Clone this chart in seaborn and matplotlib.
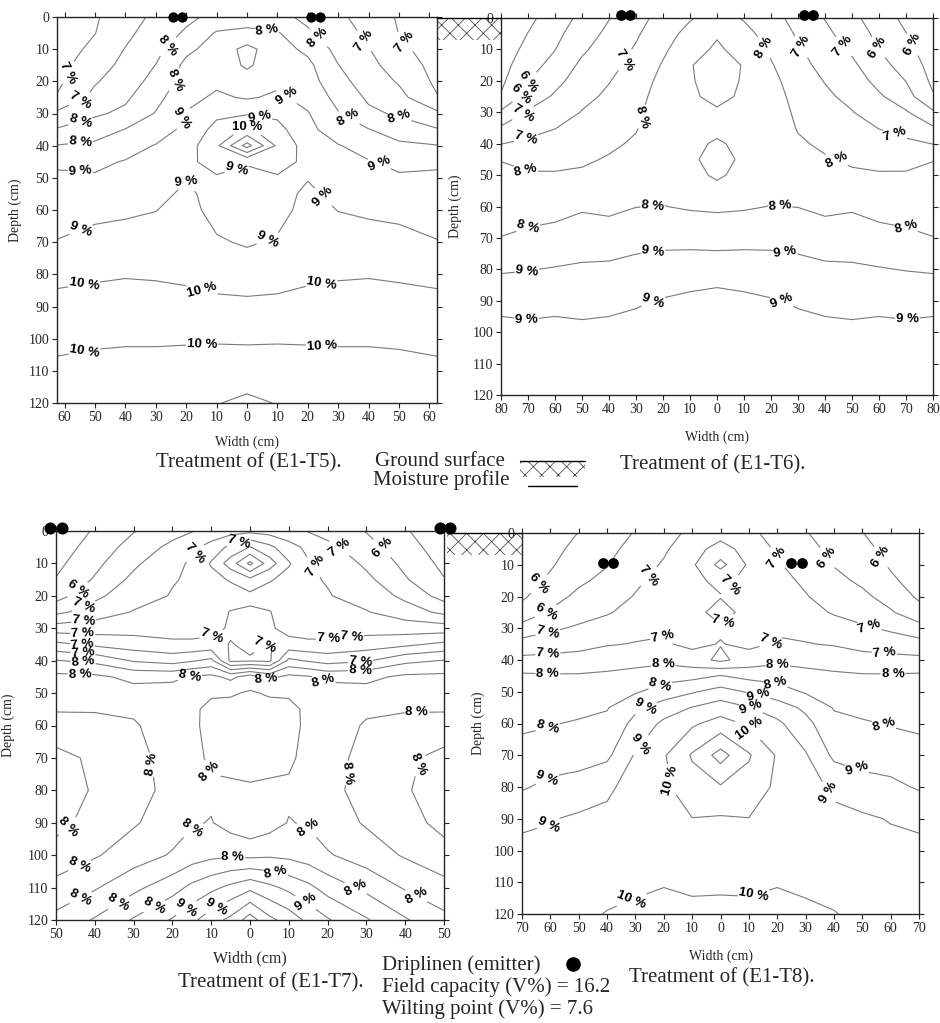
import numpy as np
import matplotlib
matplotlib.use("Agg")
import matplotlib.pyplot as plt
import seaborn as sns
from matplotlib.patches import Rectangle
from matplotlib.lines import Line2D
from matplotlib.ticker import FuncFormatter

# depth rows (cm) shared by all four profiles
DEPTHS = [0, 5, 10, 15, 20, 25, 30, 35, 40, 45, 50, 55, 60, 70, 80, 90, 100, 110, 120]

# moisture (V%); one list per half-width column, top to bottom
T5_WIDTHS = [0, 10, 20, 30, 40, 50, 62.5]
T5_MOISTURE = [
    [8.3, 8.6, 9.15, 9.05, 8.85, 8.95, 9.45, 10.1, 11.2, 9.55, 9.35, 9.3, 9.3, 9.45, 9.76, 10.11, 10.44, 10.75, 11.1],
    [8.12, 8.55, 8.7, 8.8, 8.9, 9.08, 9.4, 9.65, 9.9, 9.7, 9.45, 9.35, 9.35, 9.55, 9.8, 10.13, 10.45, 10.75, 10.98],
    [7.9, 8.06, 8.39, 8.62, 8.72, 8.85, 9.03, 9.15, 9.27, 9.38, 9.48, 9.58, 9.65, 9.75, 9.9, 10.18, 10.45, 10.7, 10.9],
    [7.61, 7.75, 7.85, 8.01, 8.15, 8.35, 8.53, 8.7, 9.03, 9.15, 9.25, 9.38, 9.49, 9.7, 9.95, 10.2, 10.45, 10.65, 10.8],
    [7.27, 7.38, 7.52, 7.65, 7.78, 7.92, 8.1, 8.52, 8.78, 9.03, 9.15, 9.28, 9.42, 9.7, 9.97, 10.2, 10.45, 10.65, 10.75],
    [6.95, 6.99, 7.12, 7.25, 7.45, 7.65, 7.93, 8.25, 8.6, 8.9, 9.05, 9.2, 9.38, 9.65, 9.93, 10.2, 10.45, 10.6, 10.7],
    [6.55, 6.65, 6.75, 6.85, 6.9, 7.03, 7.6, 8.04, 8.52, 8.92, 9.08, 9.2, 9.3, 9.52, 9.88, 10.15, 10.38, 10.6, 10.65],
]
T5_LEVELS = [7.0, 7.5, 8.0, 8.5, 9.0, 9.5, 10.0, 10.5, 11.0]
T5_EMITTERS = [-24.5, -21.5, 21.0, 24.0]

T6_WIDTHS = [0, 10, 20, 30, 40, 50, 60, 70, 80]
T6_MOISTURE = [
    [8.2, 8.45, 8.58, 8.65, 8.63, 8.6, 8.45, 8.42, 8.54, 8.6, 8.54, 8.42, 8.42, 8.83, 9.25, 9.68, 9.8, 9.88, 9.92],
    [7.96, 8.15, 8.3, 8.48, 8.47, 8.44, 8.38, 8.36, 8.42, 8.45, 8.42, 8.38, 8.45, 8.85, 9.25, 9.6, 9.75, 9.85, 9.9],
    [7.66, 7.8, 7.92, 8.04, 8.14, 8.22, 8.28, 8.3, 8.32, 8.35, 8.38, 8.44, 8.51, 8.87, 9.2, 9.53, 9.7, 9.82, 9.88],
    [7.34, 7.44, 7.55, 7.65, 7.75, 7.83, 7.9, 7.97, 8.06, 8.15, 8.25, 8.38, 8.49, 8.84, 9.15, 9.45, 9.65, 9.78, 9.85],
    [6.98, 7.12, 7.25, 7.36, 7.48, 7.58, 7.7, 7.8, 7.92, 8.04, 8.15, 8.27, 8.4, 8.72, 9.1, 9.4, 9.6, 9.72, 9.8],
    [6.62, 6.75, 6.92, 7.1, 7.25, 7.38, 7.52, 7.65, 7.8, 7.93, 8.07, 8.22, 8.45, 8.72, 9.08, 9.38, 9.58, 9.7, 9.78],
    [6.25, 6.38, 6.49, 6.65, 6.85, 7.07, 7.25, 7.49, 7.65, 7.84, 8.05, 8.2, 8.35, 8.65, 9.03, 9.42, 9.58, 9.66, 9.74],
    [5.88, 6.01, 6.15, 6.32, 6.49, 6.7, 7.05, 7.32, 7.6, 7.85, 8.05, 8.17, 8.3, 8.6, 8.98, 9.38, 9.58, 9.65, 9.72],
    [5.5, 5.6, 5.7, 5.8, 5.9, 6.04, 6.57, 7.06, 7.49, 7.98, 8.12, 8.22, 8.3, 8.51, 8.94, 9.38, 9.62, 9.7, 9.75],
]
T6_LEVELS = [6.0, 6.5, 7.0, 7.5, 8.0, 8.5, 9.0, 9.5]
T6_EMITTERS = [-35.5, -32.2, 32.3, 35.6]

T7_WIDTHS = [0, 5, 10, 15, 20, 30, 40, 50]
T7_MOISTURE = [
    [7.15, 7.61, 8.05, 7.55, 7.35, 7.43, 7.46, 7.44, 7.38, 8.3, 8.42, 8.48, 8.5, 8.46, 8.38, 8.25, 8.55, 9.15, 9.7],
    [7.12, 7.45, 7.7, 7.42, 7.3, 7.41, 7.43, 7.39, 7.36, 8.15, 8.38, 8.46, 8.48, 8.45, 8.37, 8.32, 8.57, 9.05, 9.45],
    [7.06, 7.28, 7.42, 7.33, 7.27, 7.3, 7.33, 7.47, 7.85, 8.25, 8.38, 8.44, 8.46, 8.44, 8.36, 8.41, 8.55, 8.95, 9.32],
    [6.99, 7.15, 7.22, 7.22, 7.22, 7.25, 7.3, 7.45, 7.78, 8.22, 8.34, 8.37, 8.36, 8.33, 8.3, 8.38, 8.5, 8.85, 9.15],
    [6.93, 7.05, 7.16, 7.19, 7.21, 7.24, 7.3, 7.45, 7.72, 8.15, 8.3, 8.33, 8.3, 8.26, 8.24, 8.3, 8.42, 8.72, 9.02],
    [6.79, 6.88, 6.96, 7.05, 7.13, 7.21, 7.32, 7.5, 7.78, 8.15, 8.27, 8.23, 8.18, 8.15, 8.15, 8.18, 8.3, 8.55, 8.82],
    [6.62, 6.68, 6.75, 6.82, 6.95, 7.1, 7.3, 7.56, 7.95, 8.24, 8.28, 8.22, 8.12, 8.03, 8.02, 8.05, 8.18, 8.38, 8.62],
    [6.45, 6.5, 6.55, 6.61, 6.72, 6.95, 7.3, 7.65, 8.01, 8.25, 8.3, 8.22, 8.1, 7.95, 7.9, 7.96, 8.05, 8.28, 8.45],
]
T7_LEVELS = [6.6, 6.8, 7.0, 7.2, 7.4, 7.6, 7.8, 8.0, 8.2, 8.4, 8.6, 8.8, 9.0, 9.2, 9.4, 9.6]
T7_EMITTERS = [-51.5, -48.5, 49.0, 51.5]

T8_WIDTHS = [0, 10, 20, 30, 40, 50, 60, 70]
T8_MOISTURE = [
    [7.3, 7.7, 8.15, 7.6, 7.48, 7.65, 7.45, 7.52, 7.4, 8.52, 9.2, 9.75, 10.2, 11.2, 10.45, 9.95, 9.85, 9.92, 10.12],
    [7.12, 7.3, 7.42, 7.4, 7.38, 7.36, 7.35, 7.4, 7.7, 8.35, 8.95, 9.52, 9.92, 10.55, 10.3, 9.99, 9.88, 9.92, 10.1],
    [6.8, 6.93, 7.05, 7.15, 7.25, 7.35, 7.44, 7.55, 7.88, 8.3, 8.72, 9.25, 9.6, 9.95, 9.9, 9.8, 9.82, 9.97, 10.15],
    [6.53, 6.65, 6.78, 6.92, 7.03, 7.2, 7.38, 7.52, 7.85, 8.15, 8.45, 8.9, 9.15, 9.55, 9.72, 9.75, 9.78, 9.92, 10.08],
    [6.26, 6.38, 6.48, 6.62, 6.78, 6.95, 7.25, 7.47, 7.75, 8.1, 8.3, 8.47, 8.62, 8.9, 9.4, 9.62, 9.7, 9.85, 10.02],
    [6.01, 6.12, 6.25, 6.42, 6.6, 6.8, 7.07, 7.35, 7.68, 8.05, 8.2, 8.37, 8.55, 8.82, 9.18, 9.58, 9.68, 9.78, 9.9],
    [5.78, 5.87, 5.95, 6.08, 6.32, 6.55, 6.92, 7.27, 7.65, 8.05, 8.17, 8.3, 8.47, 8.75, 9.12, 9.47, 9.65, 9.75, 9.85],
    [5.6, 5.66, 5.72, 5.8, 5.92, 6.2, 6.68, 7.2, 7.62, 8.08, 8.15, 8.27, 8.4, 8.7, 8.95, 9.4, 9.62, 9.72, 9.82],
]
T8_LEVELS = [6.0, 6.5, 7.0, 7.5, 8.0, 8.5, 9.0, 9.5, 10.0, 10.5, 11.0]
T8_EMITTERS = [-41.5, -38.0, 25.0, 28.7]

FIELD_CAPACITY = 16.2
WILTING_POINT = 7.6

# where the contour labels sit (width, depth)
T5_LABEL_AT = [(-56, 18.5), (-54.8, 25.8), (-54.8, 32.5), (-54.8, 39.2), (-54.8, 47.5), (-26, 9.2),
               (-23.5, 19.6), (-22, 31), (6.5, 5), (23.3, 6.6), (37.6, 8.1), (50.7, 8.7), (13, 24.8),
               (34.3, 30), (50.2, 31), (4.3, 31), (0, 34), (-19.3, 50.7), (-3.3, 47.5), (43.6, 45.5),
               (24, 57), (-54.8, 65.7), (6.5, 68.3), (-53.7, 82.7), (-14.8, 84.8), (24.6, 83.3),
               (-53.7, 102.5), (-14.8, 102.5), (24.6, 102.5)]
T6_LABEL_AT = [(-73, 18.7), (-70.4, 25), (-70.4, 32.5), (-70.4, 39.4), (-70.4, 47.3), (-34, 13.4),
               (-27.4, 31.5), (17.8, 9.1), (31.4, 9.1), (44.3, 10.7), (56.7, 10.7), (68.4, 10.2),
               (65.2, 38.9), (44.3, 45.2), (-70.4, 64.9), (-23.6, 60.6), (23.3, 60.1), (70.3, 65.4),
               (-70.4, 79.7), (-23.6, 75), (25.2, 75), (-70.4, 94.6), (-23.6, 90.3), (23.3, 91.5),
               (70.3, 94.6)]
T7_LABEL_AT = [(-43.8, 19.1), (-43, 22.8), (-43, 25.9), (-43, 29.5), (-43, 33.1), (-43, 36.7),
               (-43, 40.3), (-43.8, 44.4), (-14.2, 6.9), (-2.6, 4.8), (22.3, 6.4), (17.2, 10.5),
               (33, 6.4), (19.8, 28), (26.2, 33.6), (28.4, 38.8), (28.4, 44.4), (3, 34.1), (-9.5, 33.1),
               (3.4, 47.5), (17.2, 51.6), (43, 56.8), (-15, 50), (-29.6, 72.7), (-10.3, 74.2),
               (29.6, 75.3), (42.5, 71.7), (-44.7, 94.3), (-16.3, 90.2), (16.3, 90.2), (-4.4, 100),
               (6.9, 104), (-43.8, 103.5), (-43.8, 112.8), (-34.8, 112.8), (-25.8, 113.3),
               (-17.6, 114.3), (-9.5, 114.3), (15.5, 112.3), (28.4, 107.6), (43, 112.3)]
T8_LABEL_AT = [(-61.5, 18), (-60.9, 25.8), (-60.9, 31.6), (-60.9, 37.7), (-60.9, 44.2), (-24.4, 14.3),
               (1.4, 14.3), (0.8, 27.9), (19.6, 8), (37.3, 8), (54.9, 8.5), (-20.3, 33.7), (17.3, 33.7),
               (52.5, 29.5), (57.8, 37.4), (-20.3, 41), (20.2, 41), (-21.5, 47.3), (19.6, 46.8),
               (60.8, 44.2), (-61.5, 59.4), (58.4, 58.4), (-26.2, 55.7), (13.2, 51.6), (10.8, 55.2),
               (10.2, 61.5), (-28, 66.8), (50.2, 68.9), (-61.5, 76.7), (-20.9, 78.3), (41.4, 79.9),
               (-60.9, 90.9), (-32.1, 114), (11.4, 113)]

W, H = 940, 1023
sns.set_style("ticks")
plt.rcParams["font.family"] = ["Liberation Serif", "DejaVu Serif"]
plt.rcParams["hatch.linewidth"] = 0.5
SERIF = ["Liberation Serif", "DejaVu Serif"]
LABEL_FONT = ["Liberation Sans", "DejaVu Sans"]


def fx(px):
    return px / W


def fy(py):
    return 1 - py / H


def box(x0, y0, x1, y1):
    return [fx(x0), fy(y1), (x1 - x0) / W, (y1 - y0) / H]


def draw_panel(ax, widths, moisture, levels, span, tick_max, label_at, emitters, emitter_depth, esize):
    half_x = np.array(widths, dtype=float)
    x = np.concatenate([-half_x[:0:-1], half_x])
    z = np.array(moisture).T
    z = np.hstack([z[:, :0:-1], z])
    cs = ax.contour(x, DEPTHS, z, levels=levels, colors="#7a7a7a", linewidths=0.8)
    with plt.rc_context({"font.family": LABEL_FONT, "font.weight": "bold"}):
        texts = ax.clabel(cs, levels=levels, manual=label_at, inline=True, inline_spacing=1,
                          fmt=lambda v: f"{int(v + 1e-6)} %", fontsize=9.5, colors="black")
    for t in texts:
        t.set_fontfamily(LABEL_FONT)
        t.set_fontweight("bold")
    sns.scatterplot(x=emitters, y=[emitter_depth] * len(emitters), ax=ax, color="black",
                    s=esize, linewidth=0, clip_on=False, zorder=6, legend=False)
    ax.set_xlim(-span, span)
    ax.set_ylim(120, 0)
    ax.set_xticks(np.arange(-tick_max, tick_max + 1, 10))
    ax.set_yticks(np.arange(0, 121, 10))
    ax.xaxis.set_major_formatter(FuncFormatter(lambda v, p: f"{abs(int(round(v)))}"))
    ax.tick_params(direction="out", top=True, right=True, length=3.5, width=0.8,
                   labelsize=10, pad=2)
    for lab in ax.get_xticklabels() + ax.get_yticklabels():
        lab.set_fontfamily(SERIF)
    for s in ax.spines.values():
        s.set_linewidth(1.0)
    ax.set_xlabel("")
    ax.set_ylabel("")


fig = plt.figure(figsize=(W / 100, H / 100), dpi=100)

ax5 = fig.add_axes(box(57, 17, 437, 403))
ax6 = fig.add_axes(box(501, 18, 933, 395))
ax7 = fig.add_axes(box(56, 531, 444, 920))
ax8 = fig.add_axes(box(522, 533, 919, 914))

draw_panel(ax5, T5_WIDTHS, T5_MOISTURE, T5_LEVELS, 62.5, 60, T5_LABEL_AT, T5_EMITTERS, 0, 55)
draw_panel(ax6, T6_WIDTHS, T6_MOISTURE, T6_LEVELS, 80, 80, T6_LABEL_AT, T6_EMITTERS, -1, 60)
draw_panel(ax7, T7_WIDTHS, T7_MOISTURE, T7_LEVELS, 50, 50, T7_LABEL_AT, T7_EMITTERS, -1, 75)
draw_panel(ax8, T8_WIDTHS, T8_MOISTURE, T8_LEVELS, 70, 70, T8_LABEL_AT, T8_EMITTERS, 9.5, 60)

# axis titles
for px, py in [(247, 442), (717, 437), (721, 956)]:
    fig.text(fx(px), fy(py), "Width (cm)", ha="center", va="center", fontsize=10, family=SERIF)
fig.text(fx(250), fy(958), "Width (cm)", ha="center", va="center", fontsize=11.5, family=SERIF)
for px, py in [(15, 210), (455, 206), (8, 725), (478, 723)]:
    fig.text(fx(px), fy(py), "Depth (cm)", ha="center", va="center", rotation=90,
             fontsize=10, family=SERIF)

# ground surface marks beside the profiles
for x0, y0, x1, y1 in [(437, 18, 501, 40), (447, 533, 522, 555), (520, 461, 585, 477)]:
    fig.add_artist(Rectangle((fx(x0), fy(y1)), (x1 - x0) / W, (y1 - y0) / H,
                             transform=fig.transFigure, fill=False, hatch="xx",
                             edgecolor="#333333", linewidth=0))
    fig.add_artist(Line2D([fx(x0), fx(x1)], [fy(y0), fy(y0)], color="black", lw=1.0,
                          transform=fig.transFigure))
fig.add_artist(Line2D([fx(528), fx(577)], [fy(486), fy(486)], color="black", lw=1.0,
                      transform=fig.transFigure))

# captions and legend text
fig.text(fx(249), fy(463), "Treatment of (E1-T5).", ha="center", va="center", fontsize=15, family=SERIF)
fig.text(fx(713), fy(465), "Treatment of (E1-T6).", ha="center", va="center", fontsize=15, family=SERIF)
fig.text(fx(375), fy(462), "Ground surface", ha="left", va="center", fontsize=15, family=SERIF)
fig.text(fx(373), fy(480), "Moisture profile", ha="left", va="center", fontsize=15, family=SERIF)
fig.text(fx(271), fy(983), "Treatment of (E1-T7).", ha="center", va="center", fontsize=15, family=SERIF)
fig.text(fx(722), fy(978), "Treatment of (E1-T8).", ha="center", va="center", fontsize=15, family=SERIF)
fig.text(fx(382), fy(965), "Driplinen (emitter)", ha="left", va="center", fontsize=15, family=SERIF)
fig.text(fx(382), fy(987), f"Field capacity (V%) = {FIELD_CAPACITY}", ha="left", va="center",
         fontsize=15, family=SERIF)
fig.text(fx(382), fy(1009), f"Wilting point (V%) = {WILTING_POINT}", ha="left", va="center",
         fontsize=15, family=SERIF)
fig.add_artist(Line2D([fx(573)], [fy(964)], marker="o", ms=9.5, color="black", lw=0,
                      transform=fig.transFigure))

fig.savefig("out.png", dpi=100)
